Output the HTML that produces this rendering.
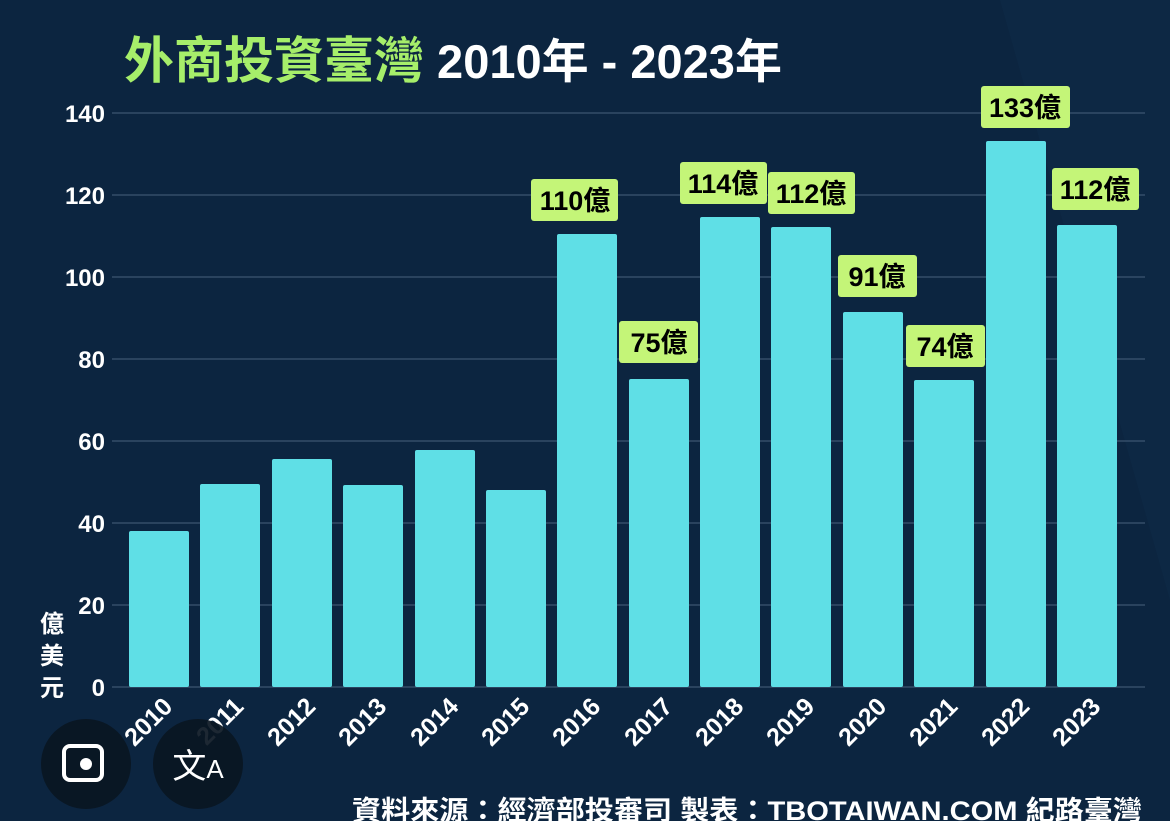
<!DOCTYPE html>
<html><head><meta charset="utf-8"><style>
html,body{margin:0;padding:0;background:#0c2540;}
svg{display:block}
text{font-family:"Liberation Sans","Noto Sans CJK TC",sans-serif;}
</style></head><body>
<svg width="1170" height="821" viewBox="0 0 1170 821" xmlns="http://www.w3.org/2000/svg">
<rect width="1170" height="821" fill="#0c2540"/>
<polygon points="1000,0 1170,0 1170,600" fill="#0f2b47" opacity="0.6"/>
<text x="124" y="78" font-size="50" font-weight="bold" fill="#a6ee6a">外商投資臺灣<tspan fill="#ffffff" font-size="47"> 2010年 - 2023年</tspan></text>
<g stroke="#3c5670" stroke-width="1.2">
<line x1="112" y1="113" x2="1145" y2="113"/>
<line x1="112" y1="195" x2="1145" y2="195"/>
<line x1="112" y1="277" x2="1145" y2="277"/>
<line x1="112" y1="359" x2="1145" y2="359"/>
<line x1="112" y1="441" x2="1145" y2="441"/>
<line x1="112" y1="523" x2="1145" y2="523"/>
<line x1="112" y1="605" x2="1145" y2="605"/>
<line x1="112" y1="687" x2="1145" y2="687"/>
</g>
<g font-size="24" font-weight="bold" fill="#fff" text-anchor="end">
<text x="105" y="122">140</text><text x="105" y="204">120</text><text x="105" y="286">100</text>
<text x="105" y="368">80</text><text x="105" y="450">60</text><text x="105" y="532">40</text>
<text x="105" y="614">20</text><text x="105" y="696">0</text>
</g>
<g font-size="24" font-weight="bold" fill="#fff" text-anchor="middle">
<text x="52" y="632">億</text><text x="52" y="664">美</text><text x="52" y="696">元</text>
</g>
<g fill="#5fdfe6">
<rect x="129" y="531" width="60" height="156" rx="2"/>
<rect x="200" y="484" width="60" height="203" rx="2"/>
<rect x="272" y="459" width="60" height="228" rx="2"/>
<rect x="343" y="485" width="60" height="202" rx="2"/>
<rect x="415" y="450" width="60" height="237" rx="2"/>
<rect x="486" y="490" width="60" height="197" rx="2"/>
<rect x="557" y="234" width="60" height="453" rx="2"/>
<rect x="629" y="379" width="60" height="308" rx="2"/>
<rect x="700" y="217" width="60" height="470" rx="2"/>
<rect x="771" y="227" width="60" height="460" rx="2"/>
<rect x="843" y="312" width="60" height="375" rx="2"/>
<rect x="914" y="380" width="60" height="307" rx="2"/>
<rect x="986" y="141" width="60" height="546" rx="2"/>
<rect x="1057" y="225" width="60" height="462" rx="2"/>
</g>
<g font-size="27" font-weight="bold" fill="#000" text-anchor="middle">
<rect x="531" y="179" width="87" height="42" rx="3" fill="#c4f578"/><text x="575" y="210">110億</text>
<rect x="619" y="321" width="79" height="42" rx="3" fill="#c4f578"/><text x="659" y="352">75億</text>
<rect x="680" y="162" width="87" height="42" rx="3" fill="#c4f578"/><text x="723" y="193">114億</text>
<rect x="768" y="172" width="87" height="42" rx="3" fill="#c4f578"/><text x="811" y="203">112億</text>
<rect x="838" y="255" width="79" height="42" rx="3" fill="#c4f578"/><text x="877" y="286">91億</text>
<rect x="906" y="325" width="79" height="42" rx="3" fill="#c4f578"/><text x="945" y="356">74億</text>
<rect x="981" y="86" width="89" height="42" rx="3" fill="#c4f578"/><text x="1025" y="117">133億</text>
<rect x="1052" y="168" width="87" height="42" rx="3" fill="#c4f578"/><text x="1095" y="199">112億</text>
</g>
<g font-size="25" font-weight="bold" fill="#fff" text-anchor="end">
<text transform="translate(174,708) rotate(-45)">2010</text>
<text transform="translate(245,708) rotate(-45)">2011</text>
<text transform="translate(317,708) rotate(-45)">2012</text>
<text transform="translate(388,708) rotate(-45)">2013</text>
<text transform="translate(460,708) rotate(-45)">2014</text>
<text transform="translate(531,708) rotate(-45)">2015</text>
<text transform="translate(602,708) rotate(-45)">2016</text>
<text transform="translate(674,708) rotate(-45)">2017</text>
<text transform="translate(745,708) rotate(-45)">2018</text>
<text transform="translate(816,708) rotate(-45)">2019</text>
<text transform="translate(888,708) rotate(-45)">2020</text>
<text transform="translate(959,708) rotate(-45)">2021</text>
<text transform="translate(1031,708) rotate(-45)">2022</text>
<text transform="translate(1102,708) rotate(-45)">2023</text>
</g>
<circle cx="86" cy="764" r="45" fill="#0a1622" opacity="0.92"/>
<circle cx="198" cy="764" r="45" fill="#0a1622" opacity="0.92"/>
<rect x="64" y="746" width="38" height="34" rx="6" fill="none" stroke="#fff" stroke-width="4"/>
<circle cx="86" cy="764" r="6" fill="#fff"/>
<text x="198" y="778" font-size="34" fill="#fff" text-anchor="middle">文<tspan font-size="26">A</tspan></text>
<text x="352" y="820" font-size="27" font-weight="bold" fill="#fff" textLength="790" lengthAdjust="spacingAndGlyphs">資料來源：經濟部投審司  製表：TBOTAIWAN.COM 紀路臺灣</text>
</svg>
</body></html>
